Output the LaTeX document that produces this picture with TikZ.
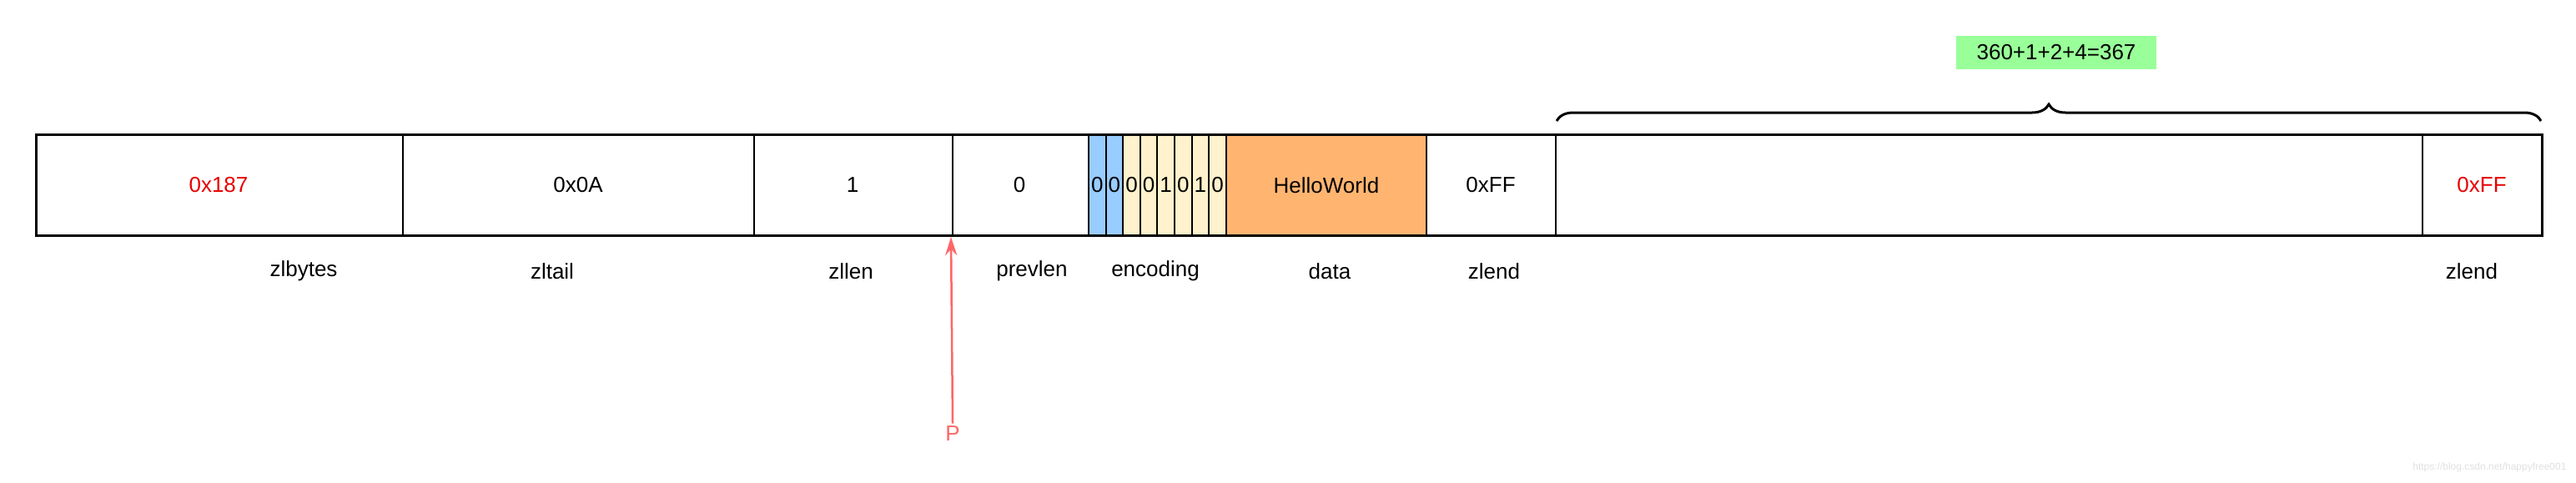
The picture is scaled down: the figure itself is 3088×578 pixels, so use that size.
\documentclass[tikz,border=0pt]{standalone}
\usepackage{fontspec}
\setmainfont{Liberation Sans}
\usetikzlibrary{decorations.pathreplacing,arrows.meta}
\definecolor{valred}{RGB}{230,0,0}
\definecolor{ptrred}{RGB}{255,102,102}
\definecolor{bitblue}{RGB}{153,204,255}
\definecolor{bitcream}{RGB}{255,242,204}
\definecolor{dataorange}{RGB}{255,181,112}
\definecolor{sumgreen}{RGB}{153,255,153}
\tikzset{
  cell/.style={draw=black,line width=2pt},
  lbl/.style={font=\fontsize{26}{30}\selectfont},
}
\begin{document}
\begin{tikzpicture}[x=1pt,y=-1pt]
\useasboundingbox (0,0) rectangle (3088,578);

%cells
\fill[bitblue] (1305,161) rectangle (1346,282);
\fill[bitcream] (1346,161) rectangle (1470,282);
\fill[dataorange] (1470,161) rectangle (1710,282);
\foreach \x in {483,904,1142,1305,1710,1865,2904}
  \draw[cell] (\x,161) -- (\x,282);
\foreach \i in {1,...,7}
  \draw[cell] ({1305+\i*20.6},161) -- ({1305+\i*20.6},282);
\draw[cell] (1470,161) -- (1470,282);
\draw[cell,line width=3pt] (43,161) rectangle (3047,282);

%values
\node[lbl,text=valred] (vbytes) at (262,222) {0x187};
\node[lbl] (vtail) at (693,222) {0x0A};
\node[lbl] (vlen) at (1022,222) {1};
\node[lbl] (vprev) at (1222,222) {0};
\foreach \b [count=\i from 0] in {0,0,0,0,1,0,1,0}
  \node[lbl,inner sep=0pt] (bit\i) at ({1315.3+\i*20.6},222) {\b};
\node[lbl] (vdata) at (1590,222) {HelloWorld};
\node[lbl] (vend) at (1787,222) {0xFF};
\node[lbl,text=valred] (vend2) at (2975,222) {0xFF};

%names
\node[lbl] (nbytes) at (364,325) {zlbytes};
\node[lbl] (ntail) at (662,325) {zltail};
\node[lbl] (nlen) at (1020,325) {zllen};
\node[lbl] (nprev) at (1237,325) {prevlen};
\node[lbl] (nenc) at (1385,325) {encoding};
\node[lbl] (ndata) at (1594,325) {data};
\node[lbl] (nend) at (1791,325) {zlend};
\node[lbl] (nend2) at (2963,325) {zlend};

%pointer
\node[lbl,text=ptrred] (ptr) at (1142,520) {P};
\coordinate (ptrtip) at (1140,284);
\draw[ptrred,line width=2.5pt,-{Stealth[length=22pt,width=14pt]}] (ptr.north) -- (ptrtip);

%brace
\draw[line width=3pt,decorate,decoration={brace,amplitude=20pt}] (1866,145) -- (3046,145);
\node[lbl,fill=sumgreen,minimum width=240pt,minimum height=40pt] (sum) at (2465,63) {360+1+2+4=367};

\node[font=\fontsize{12}{14}\selectfont,text=black!12,anchor=east] (mark) at (3080,560) {https://blog.csdn.net/happyfree001};
\end{tikzpicture}
\end{document}
